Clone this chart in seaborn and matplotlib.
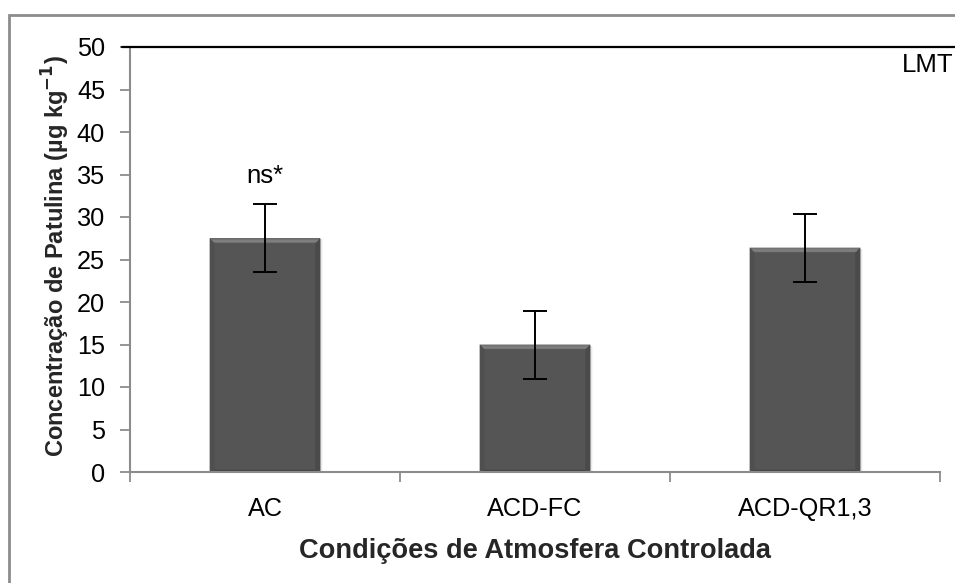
import numpy as np
import pandas as pd
import matplotlib
matplotlib.use("Agg")
import matplotlib.pyplot as plt
from matplotlib.patches import Polygon, Rectangle
import seaborn as sns

# Patulin concentration under each controlled-atmosphere condition
categories = ["AC", "ACD-FC", "ACD-QR1,3"]
means = [27.5, 15.0, 26.4]
errors = [4.0, 4.0, 4.0]
limit_value = 50
limit_label = "LMT"
note_label = "ns*"
y_ticks = list(range(0, 55, 5))

sns.set_theme(style="white")
plt.rcParams["font.family"] = ["Liberation Sans", "DejaVu Sans"]

df = pd.DataFrame({"cond": categories, "conc": means})

fig = plt.figure(figsize=(9.55, 5.83), dpi=100)
ax = fig.add_axes([130 / 955, 1 - 472 / 583, 810 / 955, 425 / 583])

sns.barplot(data=df, x="cond", y="conc", color="#555555", saturation=1,
            width=0.41, errorbar=None, ax=ax, zorder=2, linewidth=0)

# bevel shading on each bar
inv = ax.transData.inverted()
for p in list(ax.patches):
    x0, y0 = p.get_x(), p.get_y()
    w, h = p.get_width(), p.get_height()
    (px0, py0) = ax.transData.transform((x0, y0))
    (px1, py1) = ax.transData.transform((x0 + w, y0 + h))
    bx, by = 5, 8

    def d(px, py):
        return inv.transform((px, py))

    # soft shadow to the right and below
    for k, a in enumerate([0.10, 0.06, 0.03]):
        s = k + 1
        sh = Polygon([d(px0 + 2, py0 - s), d(px1 + s, py0 - s), d(px1 + s, py1 - 2),
                      d(px1, py1 - 2), d(px1, py0), d(px0 + 2, py0)],
                     closed=True, facecolor="black", alpha=a, lw=0, zorder=1.5)
        ax.add_patch(sh)
    top = Polygon([d(px0, py1), d(px1, py1), d(px1 - bx, py1 - by), d(px0 + bx, py1 - by)],
                  closed=True, facecolor="#727272", lw=0, zorder=2.1)
    top_hi = Polygon([d(px0 + 2, py1 - 3), d(px1 - 2, py1 - 3),
                      d(px1 - bx + 1, py1 - by + 1), d(px0 + bx - 1, py1 - by + 1)],
                     closed=True, facecolor="#7e7e7e", lw=0, zorder=2.2)
    left = Polygon([d(px0, py1), d(px0 + bx, py1 - by), d(px0 + bx, py0 + 4), d(px0, py0)],
                   closed=True, facecolor="#4f4f4f", lw=0, zorder=2.1)
    right = Polygon([d(px1, py1), d(px1 - bx, py1 - by), d(px1 - bx, py0 + 4), d(px1, py0)],
                    closed=True, facecolor="#4a4a4a", lw=0, zorder=2.1)
    bottom = Polygon([d(px0, py0), d(px1, py0), d(px1 - bx, py0 + 4), d(px0 + bx, py0 + 4)],
                     closed=True, facecolor="#434343", lw=0, zorder=2.1)
    for poly in (top, top_hi, left, right, bottom):
        ax.add_patch(poly)

ax.errorbar(range(len(categories)), means, yerr=errors, fmt="none",
            ecolor="black", elinewidth=1.4, capsize=8.5, capthick=1.4, zorder=4)

# regulatory limit line
ax.axhline(limit_value, xmin=-0.01, xmax=1.05, color="black", lw=1.6,
           clip_on=False, zorder=5)
ax.text(1.017, 47.9, limit_label, transform=ax.get_yaxis_transform(),
        ha="right", va="center", fontsize=18.5, color="black")
ax.text(0, means[0] + errors[0] + 1.9, note_label, ha="center", va="bottom",
        fontsize=18.5, color="black")

ax.set_xlim(-0.5, len(categories) - 0.5)
ax.set_ylim(0, 50)
ax.set_yticks(y_ticks)
ax.set_yticklabels([str(t) for t in y_ticks])
ax.set_xticks(range(len(categories)))
ax.set_xticklabels(categories)
ax.set_xticks(np.arange(-0.5, len(categories), 1.0), minor=True)

for side in ("top", "right"):
    ax.spines[side].set_visible(False)
for side in ("left", "bottom"):
    ax.spines[side].set_color("#8c8c8c")
    ax.spines[side].set_linewidth(1.5)

ax.tick_params(axis="y", which="major", direction="out", length=7, width=1.3,
               color="#8c8c8c", left=True, labelsize=18.2, pad=11, labelcolor="black")
ax.tick_params(axis="x", which="major", length=0, labelsize=18.2, pad=18,
               labelcolor="black")
ax.tick_params(axis="x", which="minor", direction="out", length=7, width=1.3,
               color="#8c8c8c", bottom=True)

ax.set_xlabel("Condições de Atmosfera Controlada", fontsize=19.6,
              fontweight="bold", labelpad=12)
ax.set_ylabel(r"Concentração de Patulina (µg kg$^{\mathbf{-1}}$)", fontsize=17,
              fontweight="bold", labelpad=4)
ax.yaxis.set_label_coords(-0.071, 0.507)

# outer chart frame
fig.patches.append(Rectangle((9 / 955, -0.1), 1.2, (583 - 15) / 583 + 0.1,
                             transform=fig.transFigure, fill=False,
                             edgecolor="#8c8c8c", lw=2, zorder=0))

fig.savefig("out.png", dpi=100, facecolor="white")
